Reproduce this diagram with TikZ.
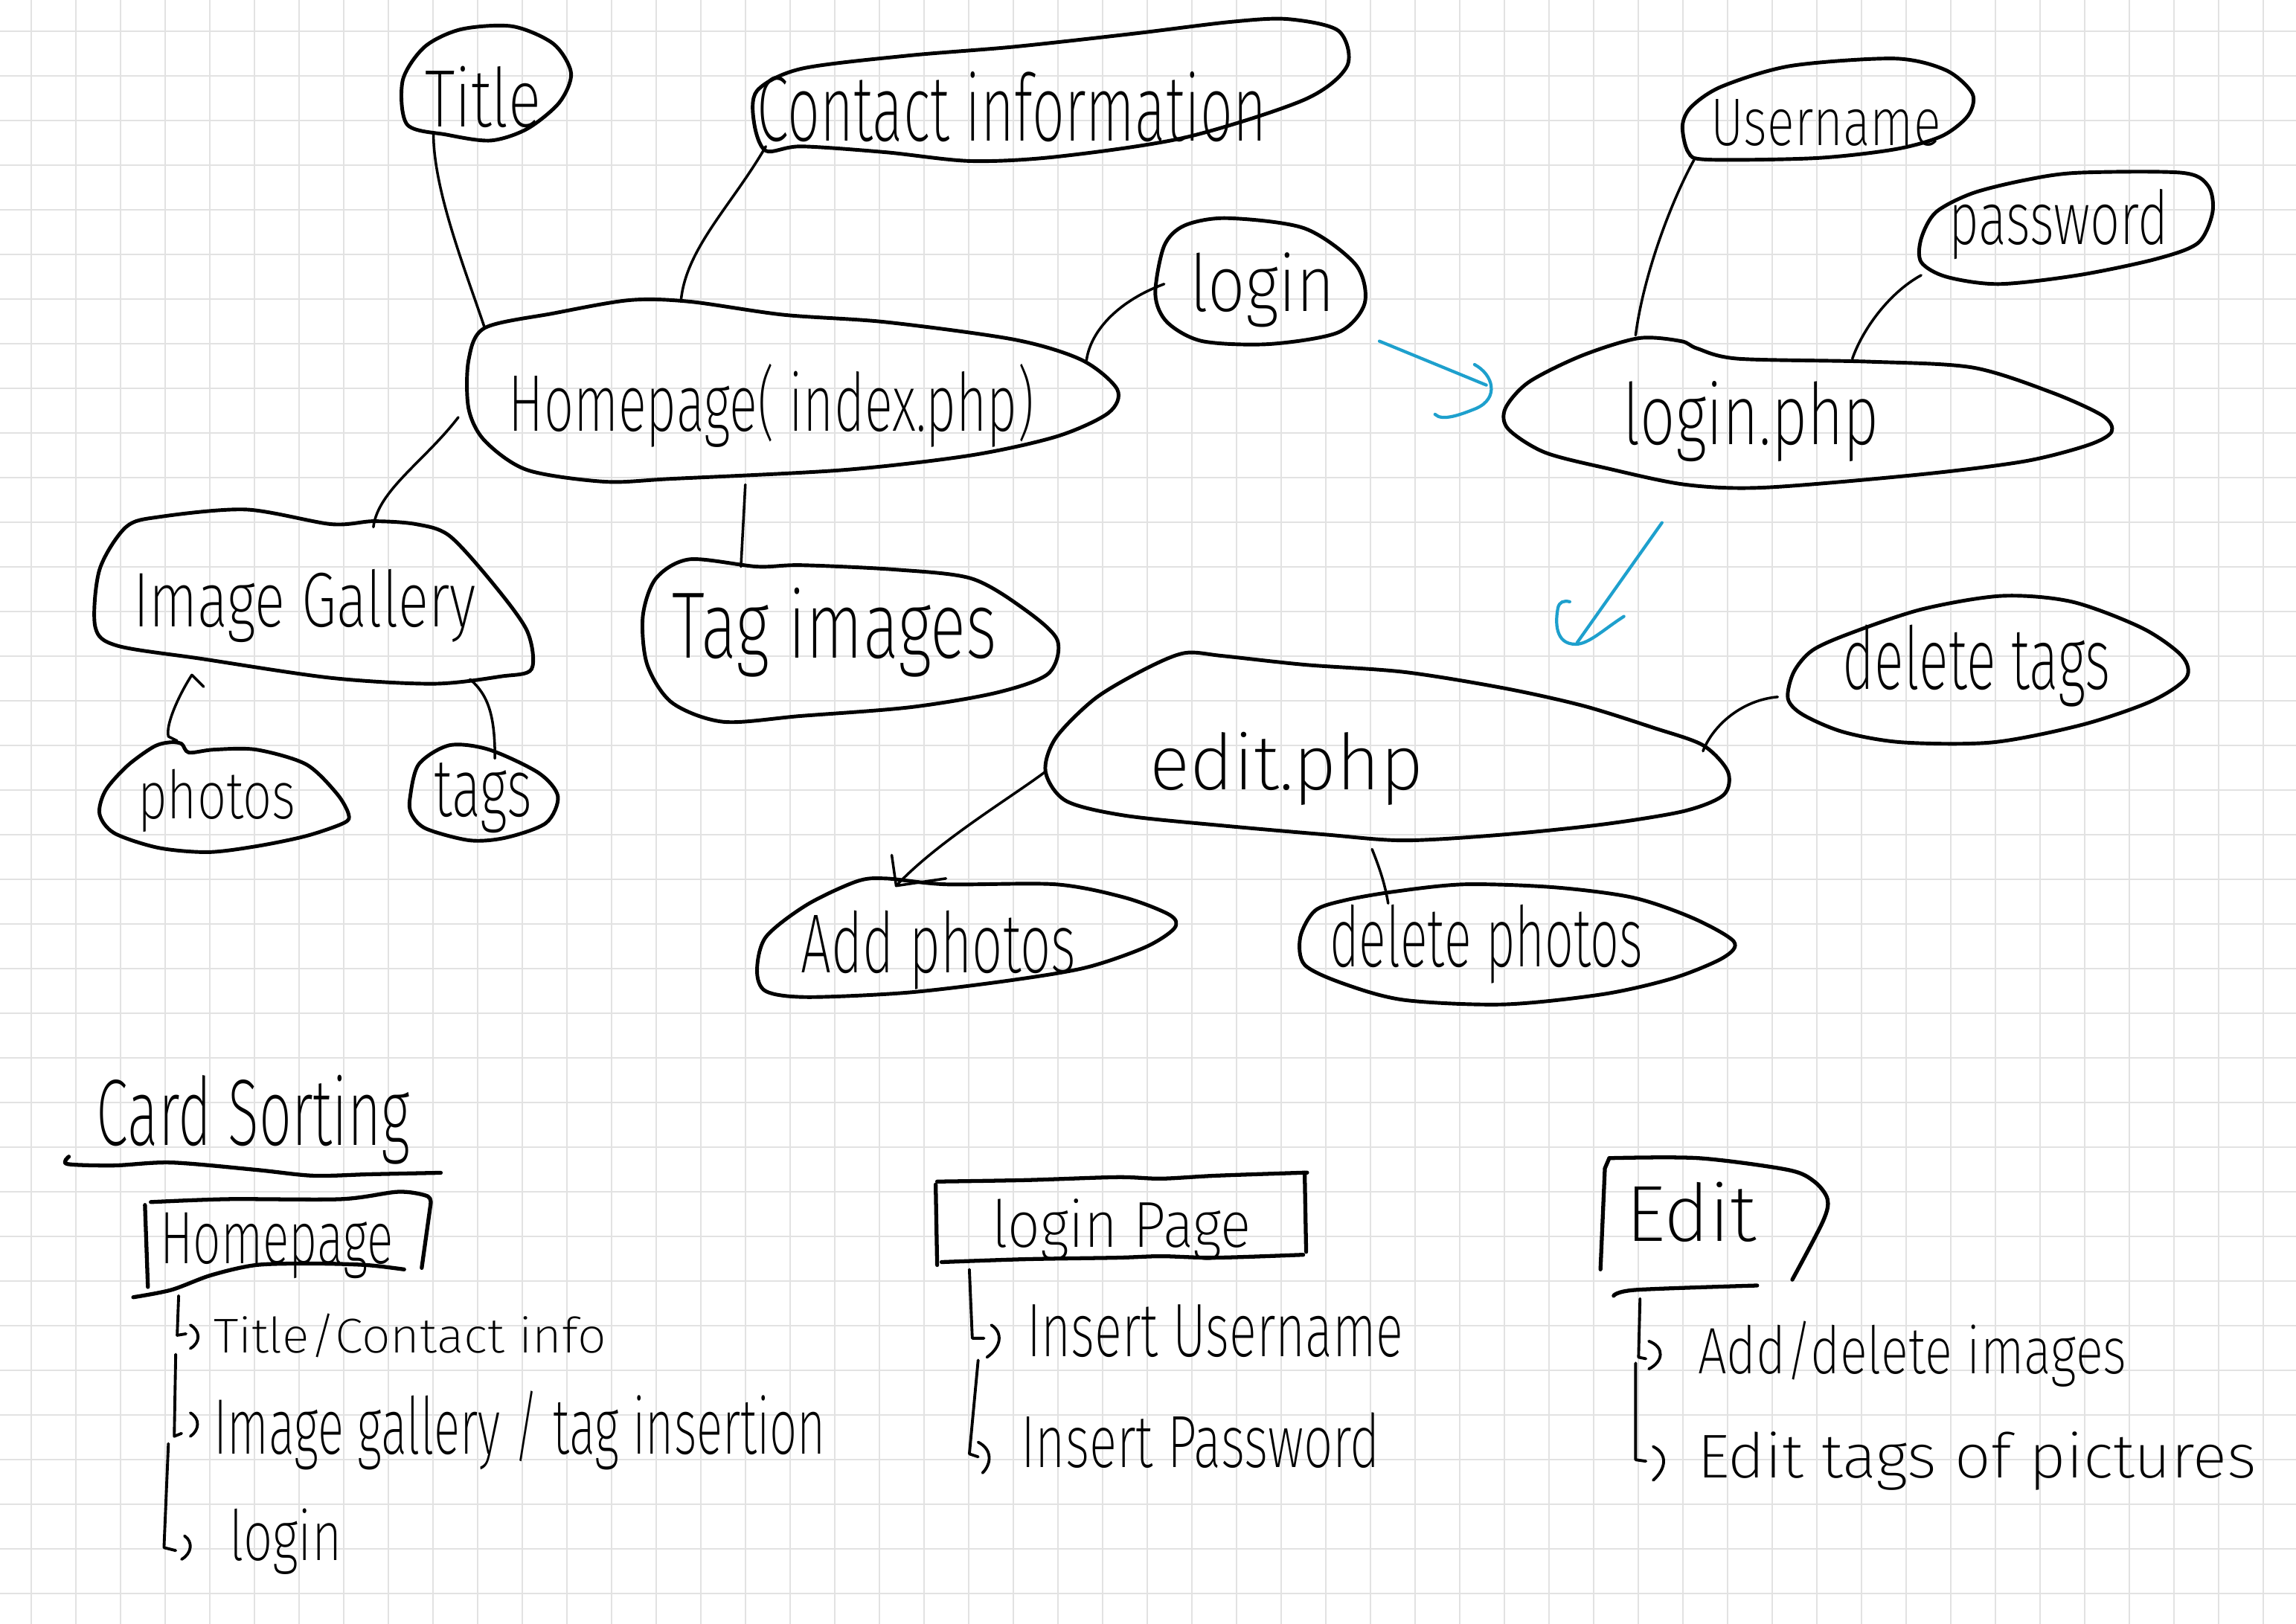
\documentclass[tikz,border=0pt]{standalone}
\usepackage{fontspec}
\IfFontExistsTF{Fira Sans ExtraLight}{\setmainfont{Fira Sans ExtraLight}}{\setmainfont{Fira Sans Light}}
\usetikzlibrary{arrows.meta}
\newlength\pxu \setlength\pxu{0.01968cm}
\newcommand\hw[3]{\resizebox*{#1\pxu}{#2\pxu}{#3}}
\definecolor{gridc}{RGB}{226,226,226}
\definecolor{penblue}{RGB}{30,160,205}
\tikzset{
 blob/.style={line width=1.4pt, line join=round, line cap=round},
 conn/.style={line width=1pt, line cap=round, line join=round},
 cyanpen/.style={penblue, line width=1.2pt, line cap=round, line join=round},
 pen/.style={line width=1.1pt, line cap=round, line join=round},
 boxpen/.style={line width=1.5pt, line cap=round, line join=round},
 txt/.style={inner sep=0pt, outer sep=0pt},
}
\begin{document}
\begin{tikzpicture}[x=0.01968cm, y=-0.01968cm]
\fill[white] (0,0) rectangle (1568,1109);
\useasboundingbox (0,0) rectangle (1568,1109);
\foreach \i in {0,...,50} { \draw[gridc, line width=0.6pt] ({21.34+30.49*\i},0) -- ({21.34+30.49*\i},1109); }
\foreach \j in {0,...,35} { \draw[gridc, line width=0.6pt] (0,{21.34+30.49*\j}) -- (1568,{21.34+30.49*\j}); }

% ---------- blobs ----------
\draw[blob] plot[smooth cycle] coordinates {(278,85) (275,55) (290,32) (315,20) (350,18) (378,30) (390,50) (382,70) (360,88) (335,96) (305,92)};
\draw[blob] plot[smooth cycle] coordinates {(515,84) (517,62) (547,47) (620,38) (692,32) (774,23) (840,15) (879,13) (914,21) (920,45) (891,68) (809,94) (722,107) (663,110) (605,104) (547,100) (523,103)};
\draw[blob] plot[smooth cycle] coordinates {(838,149) (891,156) (926,181) (932,207) (914,227) (867,235) (821,233) (797,220) (789,201) (795,168) (809,154)};
\draw[blob] plot[smooth cycle] coordinates {(331,224) (378,214) (430,205) (471,206) (535,215) (605,220) (693,232) (739,246) (763,266) (757,282) (722,298) (663,311) (576,321) (459,327) (413,329) (360,321) (331,301) (320,279) (320,246)};
\draw[blob] plot[smooth cycle] coordinates {(86,360) (109,353) (168,348) (226,358) (255,356) (284,358) (307,366) (337,399) (360,431) (363,457) (342,462) (296,467) (226,463) (138,450) (80,441) (65,428) (68,389)};
\draw[blob] plot[smooth cycle] coordinates {(448,395) (471,382) (517,387) (547,386) (611,389) (663,395) (698,415) (722,437) (716,460) (681,473) (622,483) (547,489) (494,493) (459,480) (442,454) (439,421)};
\draw[blob] plot[smooth cycle] coordinates {(68,556) (72,540) (87,523) (105,510) (116,507) (124,508) (129,514) (146,512) (175,512) (209,522) (230,542) (238,556) (235,562) (209,571) (175,578) (142,582) (108,579) (78,569)};
\draw[blob] plot[smooth cycle] coordinates {(280,545) (286,522) (307,509) (334,512) (368,528) (381,544) (373,562) (346,572) (321,574) (291,566) (281,556)};
\draw[blob] plot[smooth cycle] coordinates {(1149,86) (1155,73) (1176,59) (1223,45) (1294,40) (1329,48) (1347,64) (1344,79) (1326,93) (1294,102) (1240,108) (1166,109) (1153,104)};
\draw[blob] plot[smooth cycle] coordinates {(1312,163) (1322,145) (1347,132) (1383,123) (1419,118) (1490,118) (1508,127) (1511,145) (1501,166) (1472,177) (1419,188) (1365,194) (1329,189) (1312,179)};
\draw[blob] plot[smooth cycle] coordinates {(1119,231) (1148,233) (1159,238) (1187,245) (1276,247) (1347,251) (1401,268) (1436,284) (1442,295) (1426,304) (1383,315) (1312,324) (1205,333) (1151,331) (1098,320) (1055,309) (1030,293) (1028,279) (1044,261) (1080,243)};
\draw[blob] plot[smooth cycle] coordinates {(782,457) (809,446) (835,448) (891,454) (959,459) (1027,470) (1081,482) (1129,497) (1163,509) (1180,527) (1177,543) (1150,554) (1095,563) (1027,570) (959,574) (905,570) (836,564) (768,557) (728,547) (714,527) (721,504) (748,477)};
\draw[blob] plot[smooth cycle] coordinates {(1225,459) (1238,444) (1265,432) (1313,416) (1367,407) (1415,411) (1463,429) (1490,448) (1493,463) (1469,479) (1422,495) (1361,507) (1299,507) (1259,500) (1231,488) (1221,477)};
\draw[blob] plot[smooth cycle] coordinates {(551,618) (585,602) (605,600) (646,604) (721,604) (768,613) (799,625) (802,634) (782,647) (741,661) (687,670) (619,678) (551,681) (523,677) (517,663) (523,640)};
\draw[blob] plot[smooth cycle] coordinates {(898,622) (918,615) (952,609) (1000,604) (1061,606) (1115,613) (1156,627) (1184,643) (1177,654) (1143,668) (1095,679) (1027,686) (959,683) (918,672) (891,659) (888,640)};

% ---------- texts in blobs ----------
\node[txt] (tTitle) at (330,66) {\hw{79}{42}{Title}};
\node[txt] (tContact) at (691,73) {\hw{348}{48}{Contact information}};
\node[txt] (tLogin) at (862,198) {\hw{99}{51}{login}};
\node[txt] (tHome) at (527,277) {\hw{359}{57}{Homepage( index.php)}};
\node[txt] (tGallery) at (208,414) {\hw{234}{50}{Image Gallery}};
\node[txt] (tTag) at (570,432) {\hw{222}{61}{Tag images}};
\node[txt] (tPhotos) at (148,547) {\hw{108}{43}{photos}};
\node[txt] (tTags) at (330,545) {\hw{67}{48}{tags}};
\node[txt] (tUser) at (1247,84) {\hw{157}{32}{Username}};
\node[txt] (tPass) at (1406,153) {\hw{150}{48}{password}};
\node[txt] (tLphp) at (1196,288) {\hw{175}{55}{login.php}};
\node[txt] (tDtags) at (1350,455) {\hw{183}{56}{delete tags}};
\node[txt] (tEdit) at (879,525) {\hw{187}{50}{edit.php}};
\node[txt] (tAdd) at (641,649) {\hw{188}{54}{Add photos}};
\node[txt] (tDph) at (1015,645) {\hw{214}{54}{delete photos}};

% ---------- connector end points ----------
\coordinate (titleB) at (296,91);  \coordinate (homeTL) at (331,224);
\coordinate (contB) at (523,100);  \coordinate (homeT) at (465,206);
\coordinate (loginL) at (795,194); \coordinate (homeR) at (742,246);
\coordinate (homeL) at (313,285);  \coordinate (galT) at (255,360);
\coordinate (homeB) at (509,331);  \coordinate (tagT) at (506,387);
\coordinate (galBL) at (139,469);  \coordinate (photosT) at (121,506);
\coordinate (galBR) at (321,464);  \coordinate (tagsT) at (338,518);
\coordinate (userB) at (1157,109); \coordinate (lphpTL) at (1117,229);
\coordinate (passB) at (1312,188); \coordinate (lphpT) at (1265,245);
\coordinate (dtagsL) at (1214,476); \coordinate (editR) at (1163,513);
\coordinate (editL) at (714,527);  \coordinate (addT) at (612,605);
\coordinate (editB) at (937,580);  \coordinate (dphT) at (948,617);
\coordinate (arrA1) at (942,233);  \coordinate (arrA2) at (1015,263);
\coordinate (arrB1) at (1135,357); \coordinate (arrB2) at (1077,439);

\draw[conn] (titleB) .. controls (296,130) and (318,185) .. (homeTL);
\draw[conn] (contB) .. controls (500,140) and (468,170) .. (homeT);
\draw[conn] (loginL) .. controls (765,205) and (745,225) .. (homeR);
\draw[conn] (homeL) .. controls (290,315) and (258,335) .. (galT);
\draw[conn] (homeB) -- (tagT);
\draw[conn] (galBL) -- (131,461) .. controls (122,475) and (113,495) .. (115,503) -- (photosT);
\draw[conn] (galBR) .. controls (334,475) and (338,490) .. (tagsT);
\draw[conn] (userB) .. controls (1140,140) and (1122,190) .. (lphpTL);
\draw[conn] (passB) .. controls (1290,200) and (1272,225) .. (lphpT);
\draw[conn] (dtagsL) .. controls (1190,478) and (1170,495) .. (editR);
\draw[conn] (editL) .. controls (690,545) and (640,575) .. (addT);
\draw[conn] (646,600) -- (addT) -- (609,584);
\draw[conn] (editB) .. controls (943,595) and (946,605) .. (dphT);

% ---------- cyan arrows ----------
\draw[cyanpen] (arrA1) -- (arrA2);
\draw[cyanpen] (1007,249) .. controls (1020,256) and (1024,272) .. (1008,279) .. controls (998,283) and (985,288) .. (980,283);
\draw[cyanpen] (arrB1) -- (arrB2);
\draw[cyanpen] (1109,421) .. controls (1095,430) and (1085,440) .. (1076,440) .. controls (1062,440) and (1062,425) .. (1064,415) .. controls (1065,411) and (1068,410) .. (1072,411);

% ---------- card sorting ----------
\node[txt] (tCard) at (173,765) {\hw{214}{61}{Card Sorting}};
\draw[boxpen] plot[smooth] coordinates {(47,790) (46,795) (78,796) (117,794) (175,799) (214,803) (253,802) (301,801)};

% Homepage card
\draw[boxpen] plot[smooth] coordinates {(103,821) (156,819) (233,819) (272,814) (292,817) (294,823)};
\draw[boxpen] (294,823) -- (288,866);
\draw[boxpen] (99,823) -- (101,879);
\draw[boxpen] plot[smooth] coordinates {(91,886) (117,881) (144,871) (175,864) (214,863) (250,864) (276,867)};
\node[txt] (cHome) at (189,851) {\hw{159}{45}{Homepage}};
\draw[pen] (122,885) -- (121,912) -- (127,911);
\draw[pen] (130,905) .. controls (137,909) and (137,917) .. (130,921);
\node[txt] (cHome1) at (280,912) {\hw{268}{30}{Title/Contact info}};
\draw[pen] (120,925) -- (119,981) -- (124,979);
\draw[pen] (130,965) .. controls (137,969) and (136,977) .. (130,981);
\node[txt] (cHome2) at (355,977) {\hw{418}{54}{Image gallery / tag insertion}};
\draw[pen] (115,986) -- (112,1057) -- (120,1059);
\draw[pen] (126,1049) .. controls (132,1053) and (131,1061) .. (124,1065);
\node[txt] (cHome3) at (195,1053) {\hw{77}{45}{login}};

% Login page card
\draw[boxpen] plot[smooth] coordinates {(640,807) (701,806) (763,804) (793,805) (830,803) (888,801) (891,801)};
\draw[boxpen] (891,801) -- (892,855);
\draw[boxpen] plot[smooth] coordinates {(643,862) (701,860) (763,859) (793,858) (830,859) (890,857)};
\draw[boxpen] (639,809) -- (640,864);
\node[txt] (cLogin) at (766,840) {\hw{177}{42}{login Page}};
\draw[pen] (662,867) -- (664,914) -- (672,914);
\draw[pen] (677,905) .. controls (685,910) and (684,920) .. (674,927);
\node[txt] (cLogin1) at (830,909) {\hw{257}{36}{Insert Username}};
\draw[pen] (668,929) -- (662,993) -- (668,995);
\draw[pen] (668,985) .. controls (678,990) and (677,1000) .. (671,1006);
\node[txt] (cLogin2) at (820,984) {\hw{245}{38}{Insert Password}};

% Edit card
\draw[boxpen] plot[smooth] coordinates {(1099,791) (1160,791) (1221,799) (1239,807) (1248,819) (1245,834) (1224,874)};
\draw[boxpen] (1099,791) -- (1096,798) -- (1093,867);
\draw[boxpen] plot[smooth] coordinates {(1102,885) (1117,881) (1200,878)};
\node[txt] (cEdit) at (1155,828) {\hw{89}{41}{Edit}};
\draw[pen] (1120,887) -- (1119,927) -- (1124,928);
\draw[pen] (1126,916) .. controls (1137,920) and (1136,930) .. (1126,935);
\node[txt] (cEdit1) at (1306,925) {\hw{293}{45}{Add/delete images}};
\draw[pen] (1117,931) -- (1117,997) -- (1124,998);
\draw[pen] (1129,988) .. controls (1139,993) and (1138,1003) .. (1129,1011);
\node[txt] (cEdit2) at (1350,998) {\hw{382}{40}{Edit tags of pictures}};
\end{tikzpicture}
\end{document}
